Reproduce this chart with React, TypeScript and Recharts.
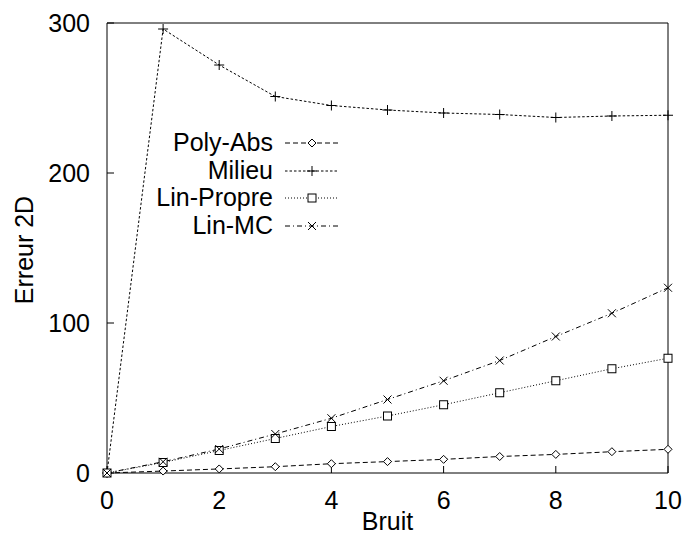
import React from "react";
import { LineChart, Line, XAxis, YAxis, Label } from "recharts";

const bruit = [0, 1, 2, 3, 4, 5, 6, 7, 8, 9, 10];
const polyAbs = [0, 1.3, 2.7, 4.2, 6.2, 7.6, 9.1, 11, 12.4, 14.2, 15.8];
const milieu = [0, 296, 272, 251, 245, 242, 240, 239, 237, 238, 238.5];
const linPropre = [0, 7, 15, 23, 31, 38, 45.5, 53.5, 61.5, 69.5, 76.5];
const linMC = [0, 7.5, 16, 26, 36.5, 49, 61.5, 75, 91, 106.5, 123.5];

const xTicks = [0, 2, 4, 6, 8, 10];
const yTicks = [0, 100, 200, 300];

const data = bruit.map((x, i) => ({
  x,
  polyAbs: polyAbs[i],
  milieu: milieu[i],
  linPropre: linPropre[i],
  linMC: linMC[i],
}));

const FONT = "'Liberation Sans', Arial, Helvetica, sans-serif";

type Marker = "diamond" | "plus" | "square" | "cross";

function drawMarker(kind: Marker, cx: number, cy: number, key?: any) {
  if (kind === "diamond")
    return <path key={key} d={`M${cx},${cy - 4}L${cx + 4},${cy}L${cx},${cy + 4}L${cx - 4},${cy}Z`} fill="#fff" stroke="#000" strokeWidth={1} />;
  if (kind === "square")
    return <rect key={key} x={cx - 4} y={cy - 4} width={8} height={8} fill="#fff" stroke="#000" strokeWidth={1} />;
  if (kind === "plus")
    return <path key={key} d={`M${cx - 5},${cy}H${cx + 5}M${cx},${cy - 5}V${cy + 5}`} stroke="#000" strokeWidth={1} fill="none" />;
  return <path key={key} d={`M${cx - 4},${cy - 4}L${cx + 4},${cy + 4}M${cx - 4},${cy + 4}L${cx + 4},${cy - 4}`} stroke="#000" strokeWidth={1} fill="none" />;
}

const series: { key: string; name: string; dash: string; marker: Marker }[] = [
  { key: "polyAbs", name: "Poly-Abs", dash: "5 3", marker: "diamond" },
  { key: "milieu", name: "Milieu", dash: "2.5 2", marker: "plus" },
  { key: "linPropre", name: "Lin-Propre", dash: "1 2", marker: "square" },
  { key: "linMC", name: "Lin-MC", dash: "5 3 1 3", marker: "cross" },
];

function makeDot(kind: Marker) {
  return (p: any) => {
    if (p.cx == null || p.cy == null) return <g key={p.key} />;
    return drawMarker(kind, p.cx, p.cy, p.key);
  };
}

function YTitle(props: any) {
  const vb = props.viewBox || { x: 0, y: 23, width: 107, height: 450 };
  const x = vb.x + 33;
  const y = vb.y + vb.height / 2 + 2;
  return (
    <text x={x} y={y} transform={`rotate(-90, ${x}, ${y})`} textAnchor="middle" fontSize={25} fontFamily={FONT} fill="#000">
      Erreur 2D
    </text>
  );
}

function XTitle(props: any) {
  const vb = props.viewBox || { x: 107, y: 473, width: 561, height: 62 };
  return (
    <text x={vb.x + vb.width / 2} y={vb.y + 57} textAnchor="middle" fontSize={25} fontFamily={FONT} fill="#000">
      Bruit
    </text>
  );
}

function KeyBox() {
  return (
    <div style={{ position: "absolute", left: 150, top: 129, fontFamily: FONT, fontSize: 25 }}>
      {series.map((s) => (
        <div key={s.key} style={{ display: "flex", height: 27.7, lineHeight: "27.7px" }}>
          <span style={{ width: 123, textAlign: "right", whiteSpace: "nowrap" }}>{s.name}</span>
          <svg width={56} height={28} style={{ marginLeft: 12 }}>
            <line x1={0} y1={14} x2={54} y2={14} stroke="#000" strokeDasharray={s.dash} />
            {drawMarker(s.marker, 27, 14)}
          </svg>
        </div>
      ))}
    </div>
  );
}

export default function App() {
  const tickStyle = { fill: "#000", fontSize: 25, fontFamily: FONT };
  return (
    <div style={{ position: "absolute", left: 0, top: 0, width: 683, height: 535, background: "#fff" }}>
      <LineChart width={683} height={535} data={data} margin={{ top: 23, right: 15, left: 0, bottom: 0 }}>
        <XAxis
          dataKey="x"
          type="number"
          domain={[0, 10]}
          ticks={xTicks}
          height={62}
          tick={tickStyle}
          tickSize={-7}
          tickMargin={25}
          stroke="#000"
          axisLine={{ stroke: "#000" }}
          tickLine={{ stroke: "#000" }}
        >
          <Label content={<XTitle />} />
        </XAxis>
        <XAxis
          xAxisId="top"
          dataKey="x"
          type="number"
          orientation="top"
          mirror
          domain={[0, 10]}
          ticks={xTicks}
          tick={false}
          tickSize={7}
          axisLine={{ stroke: "#000" }}
          tickLine={{ stroke: "#000" }}
        />
        <YAxis
          type="number"
          domain={[0, 300]}
          ticks={yTicks}
          width={107}
          tick={tickStyle}
          tickSize={-7}
          tickMargin={24}
          axisLine={{ stroke: "#000" }}
          tickLine={{ stroke: "#000" }}
        >
          <Label content={<YTitle />} />
        </YAxis>
        <YAxis
          yAxisId="right"
          type="number"
          orientation="right"
          mirror
          domain={[0, 300]}
          ticks={yTicks}
          tick={false}
          tickSize={7}
          axisLine={{ stroke: "#000" }}
          tickLine={{ stroke: "#000" }}
        />
        {series.map((s) => (
          <Line
            key={s.key}
            dataKey={s.key}
            name={s.name}
            type="linear"
            stroke="#000"
            strokeWidth={1}
            strokeDasharray={s.dash}
            dot={makeDot(s.marker)}
            activeDot={false}
            isAnimationActive={false}
          />
        ))}
      </LineChart>
      <KeyBox />
    </div>
  );
}
